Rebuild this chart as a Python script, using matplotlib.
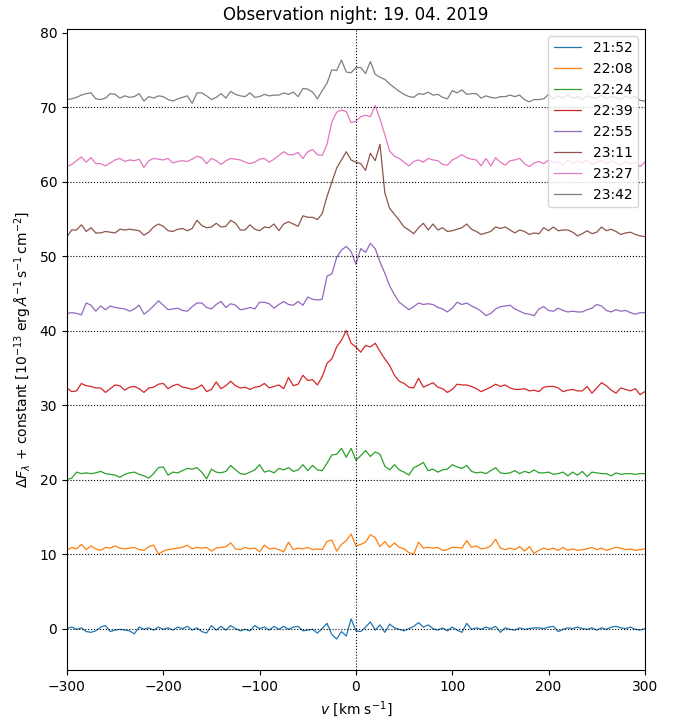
"""
Differential line profiles, observation night 19. 04. 2019
"""

import numpy as np
import matplotlib
matplotlib.use("Agg")
import matplotlib.pyplot as plt

TIMES = ["21:52", "22:08", "22:24", "22:39", "22:55", "23:11", "23:27", "23:42"]
OFFSETS = [0, 10, 20, 30, 40, 50, 60, 70]

# profiles sampled every 5 km/s from -300 to +300 (without the constant)
P_2152 = [
    0.0, 0.2, -0.1, 0.1, -0.4, -0.5, -0.3, 0.2, 0.4, -0.4, -0.2, -0.1, -0.2, -0.3, -0.7, 0.2,
    -0.1, 0.1, -0.2, 0.2, -0.1, 0.1, -0.2, 0.2, 0.0, 0.3, -0.2, 0.1, -0.4, -0.6, 0.4, -0.2,
    0.3, -0.2, 0.4, 0.0, -0.3, -0.1, -0.3, 0.4, 0.0, 0.2, -0.2, 0.3, -0.1, 0.3, -0.1, 0.2,
    0.3, -0.3, -0.2, -0.1, -0.6, 0.0, 0.7, -0.8, -1.4, -0.4, -1.0, 1.3, -0.3, -0.4, 0.2, 0.9,
    -0.2, 0.5, -0.5, 0.6, 0.1, -0.1, -0.3, 0.0, 0.3, 0.8, 0.2, 0.5, 0.0, -0.2, 0.1, -0.3,
    0.2, -0.2, -0.5, 0.7, -0.1, 0.1, -0.1, 0.2, 0.0, 0.3, -0.5, 0.1, -0.1, -0.2, 0.1, -0.1,
    0.0, 0.1, 0.1, 0.0, 0.2, 0.3, -0.4, -0.1, 0.1, 0.0, 0.2, 0.0, -0.1, 0.1, -0.2, 0.1,
    -0.1, 0.2, 0.3, 0.1, 0.0, 0.2, -0.1, -0.2, 0.0,
]
P_2208 = [
    0.5, 0.9, 0.7, 1.3, 0.6, 1.1, 0.7, 0.5, 0.9, 0.8, 1.1, 0.8, 0.7, 0.8, 0.9, 0.6,
    0.5, 1.0, 1.2, 0.0, 0.4, 0.6, 0.7, 0.8, 0.9, 1.2, 0.7, 0.9, 0.8, 0.9, 0.4, 0.8,
    0.9, 1.0, 1.5, 0.7, 0.6, 0.9, 0.7, 0.8, 0.3, 1.2, 0.7, 0.8, 0.6, 0.3, 1.6, 0.6,
    0.8, 0.7, 0.9, 0.6, 0.7, 0.6, 1.7, 1.9, 0.4, 1.3, 1.8, 2.7, 1.1, 1.3, 1.6, 2.6,
    2.2, 1.0, 1.7, 0.9, 1.5, 0.9, 0.7, 0.2, 0.0, 1.6, 0.8, 0.9, 0.8, 0.9, 0.5, 0.6,
    0.9, 0.9, 0.8, 1.8, 0.9, 1.1, 0.7, 0.8, 1.1, 2.0, 0.8, 0.6, 0.8, 0.6, 1.0, 0.4,
    1.0, 0.1, 0.5, 0.8, 0.6, 0.8, 0.5, 0.9, 0.5, 0.7, 0.5, 0.6, 0.7, 0.9, 0.6, 0.8,
    0.5, 0.7, 0.9, 0.8, 0.6, 0.7, 0.5, 0.6, 0.7,
]
P_2224 = [
    0.0, 0.2, 1.0, 0.8, 0.9, 0.8, 0.9, 1.1, 0.8, 0.7, 0.6, 0.3, 0.7, 0.9, 1.0, 0.7,
    0.5, 0.2, 0.8, 1.6, 1.7, 0.6, 1.0, 0.9, 1.2, 1.5, 1.4, 1.6, 1.0, 0.1, 1.4, 1.0,
    0.9, 1.1, 1.9, 1.3, 0.8, 0.7, 1.0, 1.3, 2.0, 1.0, 1.2, 0.9, 1.5, 1.3, 1.6, 1.1,
    1.3, 2.0, 1.2, 1.9, 1.3, 1.2, 2.2, 3.3, 3.4, 4.2, 3.0, 4.2, 2.6, 3.2, 3.9, 3.1,
    3.7, 3.4, 1.8, 1.3, 2.0, 1.3, 1.0, 0.6, 1.6, 1.9, 2.3, 1.2, 1.4, 1.0, 1.3, 1.4,
    2.0, 1.7, 1.5, 1.9, 1.1, 0.9, 1.0, 0.8, 1.2, 1.6, 0.9, 0.8, 0.9, 1.2, 0.8, 1.1,
    0.9, 1.3, 0.9, 0.9, 1.0, 0.7, 0.8, 1.0, 0.5, 1.0, 0.6, 1.1, 0.4, 1.0, 0.9, 0.8,
    0.8, 0.5, 0.9, 0.7, 0.8, 0.8, 0.7, 0.8, 0.8,
]
P_2239 = [
    2.3, 1.8, 1.9, 2.9, 2.6, 2.5, 2.3, 2.3, 1.7, 2.2, 2.7, 2.6, 2.0, 2.4, 2.5, 2.2,
    1.7, 2.3, 2.4, 2.8, 2.9, 2.2, 2.6, 2.8, 2.4, 2.3, 2.1, 2.3, 2.7, 1.8, 2.1, 3.1,
    2.2, 2.6, 3.2, 2.6, 2.3, 2.4, 2.1, 2.4, 2.5, 2.9, 2.3, 2.5, 2.7, 2.2, 3.7, 2.6,
    2.8, 4.0, 3.3, 3.4, 2.7, 3.8, 5.6, 6.2, 7.8, 8.7, 10.0, 8.3, 7.8, 7.1, 8.0, 7.8,
    8.3, 7.2, 6.2, 5.3, 4.0, 3.2, 2.9, 2.4, 2.3, 3.6, 2.4, 2.7, 3.0, 2.4, 2.2, 1.7,
    2.1, 2.8, 2.7, 2.7, 2.5, 2.2, 1.8, 2.1, 2.4, 2.8, 2.5, 2.7, 2.3, 2.1, 2.1, 2.2,
    1.9, 2.0, 1.8, 2.4, 2.5, 2.5, 2.3, 1.8, 2.0, 2.1, 1.9, 1.9, 2.5, 1.6, 2.3, 3.0,
    2.6, 2.0, 1.6, 2.3, 2.1, 1.9, 2.2, 1.4, 1.8,
]
P_2255 = [
    2.3, 2.4, 2.3, 2.1, 3.7, 3.4, 2.6, 3.3, 2.8, 3.3, 3.1, 3.0, 2.9, 2.6, 2.9, 3.4,
    2.2, 2.7, 3.3, 4.0, 3.4, 2.8, 2.9, 3.0, 2.7, 2.6, 3.2, 3.7, 3.7, 3.1, 2.9, 3.5,
    3.9, 3.1, 3.6, 3.4, 2.8, 2.9, 3.1, 2.9, 3.8, 3.8, 3.6, 3.0, 3.5, 3.9, 3.5, 3.4,
    3.9, 3.4, 4.5, 4.2, 4.1, 4.2, 7.3, 7.6, 9.8, 10.8, 11.3, 10.6, 8.9, 11.0, 10.5, 11.7,
    11.0, 9.2, 7.7, 6.0, 4.8, 3.8, 3.3, 2.8, 3.2, 3.7, 3.5, 3.6, 3.5, 3.1, 2.9, 2.5,
    3.0, 3.8, 3.5, 3.7, 3.3, 3.0, 2.6, 2.0, 2.3, 2.9, 3.2, 3.3, 3.4, 2.9, 2.6, 2.3,
    2.2, 2.0, 2.9, 3.2, 2.7, 2.6, 3.0, 2.7, 2.5, 2.6, 2.5, 2.5, 2.8, 3.0, 3.5, 3.3,
    2.7, 2.5, 2.8, 2.6, 2.7, 2.4, 2.2, 2.4, 2.4,
]
P_2311 = [
    2.6, 3.5, 3.5, 4.2, 3.3, 3.8, 3.1, 3.1, 3.3, 3.2, 3.1, 3.6, 3.5, 3.6, 3.5, 3.4,
    2.8, 3.2, 3.9, 4.3, 4.0, 3.4, 3.3, 3.6, 3.7, 3.4, 3.7, 4.8, 4.1, 3.8, 3.9, 4.4,
    3.9, 4.0, 4.8, 4.4, 3.5, 3.5, 4.2, 3.6, 3.4, 3.9, 3.8, 4.3, 3.4, 4.3, 4.6, 4.3,
    4.0, 5.4, 5.2, 5.2, 4.9, 5.7, 8.0, 9.9, 11.8, 12.9, 14.0, 12.9, 12.6, 12.4, 11.5, 13.8,
    12.8, 15.0, 8.5, 6.4, 5.6, 4.8, 3.9, 3.5, 3.0, 3.8, 4.4, 3.5, 4.3, 3.5, 3.8, 3.3,
    3.4, 3.6, 3.8, 4.3, 3.6, 3.3, 2.9, 3.1, 3.3, 3.9, 3.7, 3.9, 3.5, 3.1, 3.5, 3.3,
    2.9, 3.1, 3.0, 3.8, 3.4, 3.9, 3.4, 3.5, 3.5, 3.2, 2.7, 3.0, 3.4, 3.0, 3.2, 3.9,
    3.4, 3.6, 3.3, 2.9, 3.1, 3.2, 2.9, 2.7, 2.6,
]
P_2327 = [
    2.0, 2.3, 2.8, 3.3, 2.6, 3.2, 2.4, 2.4, 2.1, 2.5, 2.9, 3.1, 2.7, 2.9, 2.8, 3.0,
    1.9, 2.8, 3.1, 3.0, 2.9, 3.1, 2.5, 2.7, 2.8, 2.7, 3.0, 3.4, 3.2, 2.4, 3.1, 2.8,
    2.3, 2.8, 3.1, 3.0, 2.9, 2.6, 2.4, 2.6, 3.0, 3.1, 2.6, 3.0, 3.5, 4.0, 3.6, 3.6,
    3.9, 3.1, 4.0, 4.3, 3.6, 3.5, 5.0, 8.0, 9.3, 9.6, 9.4, 7.9, 8.1, 8.7, 8.9, 8.7,
    10.2, 8.4, 6.3, 4.1, 3.4, 3.1, 2.6, 2.1, 2.7, 2.9, 2.6, 3.1, 2.9, 2.8, 2.3, 2.2,
    2.9, 3.2, 3.6, 3.2, 3.0, 2.9, 2.1, 3.1, 2.1, 3.2, 2.6, 2.2, 2.8, 2.9, 3.1, 2.4,
    2.0, 2.5, 2.7, 2.4, 2.9, 2.5, 2.7, 2.2, 2.9, 2.4, 2.8, 2.5, 2.9, 2.3, 2.6, 2.9,
    2.4, 2.8, 2.5, 2.2, 2.7, 2.4, 2.6, 2.0, 2.6,
]
P_2342 = [
    1.0, 1.1, 1.3, 1.6, 1.8, 1.9, 1.1, 1.0, 1.2, 1.8, 1.7, 1.2, 1.5, 1.3, 1.4, 1.8,
    0.8, 1.4, 1.2, 1.5, 1.4, 1.0, 0.8, 1.1, 1.3, 1.5, 0.5, 1.9, 1.9, 1.5, 1.0, 1.3,
    1.8, 1.2, 2.1, 1.7, 1.5, 1.4, 1.9, 1.3, 1.4, 1.7, 1.5, 1.6, 1.6, 1.9, 1.7, 2.0,
    1.4, 2.5, 2.4, 2.0, 1.1, 2.2, 3.2, 5.0, 4.9, 6.3, 4.7, 4.6, 5.3, 5.3, 4.5, 6.1,
    4.4, 4.0, 3.7, 3.1, 2.6, 2.1, 1.7, 1.4, 1.3, 1.8, 1.7, 2.0, 1.6, 1.7, 1.3, 1.1,
    2.2, 1.9, 2.3, 1.7, 1.8, 1.8, 1.2, 1.5, 1.3, 1.2, 1.4, 1.4, 1.6, 1.4, 1.6, 1.0,
    0.7, 1.0, 1.0, 1.1, 1.7, 1.1, 1.5, 1.2, 1.6, 1.2, 1.4, 1.0, 1.5, 1.3, 1.2, 1.6,
    1.1, 1.4, 1.3, 1.0, 1.5, 1.2, 1.4, 0.9, 0.8,
]
PROFILES = [P_2152, P_2208, P_2224, P_2239, P_2255, P_2311, P_2327, P_2342]


def main() -> None:
    """main"""
    fig = plt.figure(figsize=(6.76, 7.2), dpi=100)
    ax = fig.add_axes([0.099, 0.069, 0.855, 0.891])

    for prof, off, label in zip(PROFILES, OFFSETS, TIMES):
        vel = np.linspace(-300, 300, len(prof))
        ax.plot(vel, np.array(prof) + off, lw=0.9, label=label)
        # niveau de référence
        ax.axhline(off, color="black", ls=":", lw=0.8)

    ax.axvline(0, color="black", ls=":", lw=0.8)

    ax.set_xlim(-300, 300)
    ax.set_ylim(-5.6, 80.5)
    ax.set_title("Observation night: 19. 04. 2019")
    ax.set_xlabel(r"$v$ [km s$^{-1}$]")
    ax.set_ylabel(r"$\Delta F_\lambda$ + constant [$10^{-13}$ erg$\,\AA^{-1}\,$s$^{-1}\,$cm$^{-2}$]")
    ax.legend(loc="upper right")

    fig.savefig("out.png", dpi=100)


if __name__ == "__main__":
    main()
